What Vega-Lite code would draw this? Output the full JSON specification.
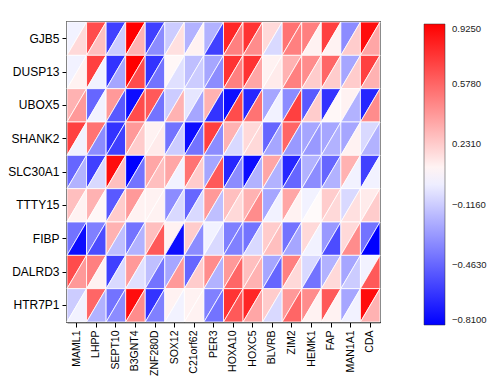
{
  "$schema": "https://vega.github.io/schema/vega-lite/v6.json",
  "width": 313,
  "height": 300,
  "autosize": "none",
  "padding": {"left": 67, "top": 22, "right": 120, "bottom": 67},
  "background": "white",
  "config": {
    "font": "Liberation Sans",
    "view": {"stroke": "black", "strokeWidth": 1.5},
    "axis": {"domainColor": "black", "domainWidth": 1.5, "tickColor": "black", "tickSize": 5, "labelColor": "black", "grid": false, "title": null}
  },
  "data": {"values": [
    {"r":"GJB5","c":"MAML1","u":0.014,"l":0.188},
    {"r":"GJB5","c":"LHPP","u":0.665,"l":0.274},
    {"r":"GJB5","c":"SEPT10","u":-0.593,"l":-0.116},
    {"r":"GJB5","c":"B3GNT4","u":0.925,"l":0.318},
    {"r":"GJB5","c":"ZNF280D","u":-0.593,"l":-0.333},
    {"r":"GJB5","c":"SOX12","u":-0.116,"l":0.162},
    {"r":"GJB5","c":"C21orf62","u":-0.203,"l":0.101},
    {"r":"GJB5","c":"PER3","u":-0.203,"l":-0.593},
    {"r":"GJB5","c":"HOXA10","u":0.795,"l":0.491},
    {"r":"GJB5","c":"HOXC5","u":0.752,"l":0.448},
    {"r":"GJB5","c":"BLVRB","u":0.188,"l":-0.073},
    {"r":"GJB5","c":"ZIM2","u":0.535,"l":0.491},
    {"r":"GJB5","c":"HEMK1","u":0.491,"l":0.101},
    {"r":"GJB5","c":"FAP","u":0.708,"l":0.101},
    {"r":"GJB5","c":"MAN1A1","u":-0.333,"l":0.231},
    {"r":"GJB5","c":"CDA","u":0.882,"l":0.361},
    {"r":"DUSP13","c":"MAML1","u":0.014,"l":0.101},
    {"r":"DUSP13","c":"LHPP","u":0.708,"l":0.014},
    {"r":"DUSP13","c":"SEPT10","u":-0.636,"l":-0.246},
    {"r":"DUSP13","c":"B3GNT4","u":0.925,"l":0.665},
    {"r":"DUSP13","c":"ZNF280D","u":-0.636,"l":-0.420},
    {"r":"DUSP13","c":"SOX12","u":0.084,"l":-0.047},
    {"r":"DUSP13","c":"C21orf62","u":-0.159,"l":-0.116},
    {"r":"DUSP13","c":"PER3","u":-0.246,"l":-0.333},
    {"r":"DUSP13","c":"HOXA10","u":0.752,"l":0.491},
    {"r":"DUSP13","c":"HOXC5","u":0.752,"l":0.361},
    {"r":"DUSP13","c":"BLVRB","u":0.101,"l":0.127},
    {"r":"DUSP13","c":"ZIM2","u":0.318,"l":0.491},
    {"r":"DUSP13","c":"HEMK1","u":0.448,"l":0.231},
    {"r":"DUSP13","c":"FAP","u":0.578,"l":0.231},
    {"r":"DUSP13","c":"MAN1A1","u":-0.246,"l":0.231},
    {"r":"DUSP13","c":"CDA","u":0.708,"l":0.318},
    {"r":"UBOX5","c":"MAML1","u":0.318,"l":0.405},
    {"r":"UBOX5","c":"LHPP","u":-0.463,"l":0.014},
    {"r":"UBOX5","c":"SEPT10","u":0.405,"l":-0.506},
    {"r":"UBOX5","c":"B3GNT4","u":-0.767,"l":0.665},
    {"r":"UBOX5","c":"ZNF280D","u":0.621,"l":-0.420},
    {"r":"UBOX5","c":"SOX12","u":-0.116,"l":0.318},
    {"r":"UBOX5","c":"C21orf62","u":-0.029,"l":-0.246},
    {"r":"UBOX5","c":"PER3","u":0.318,"l":-0.636},
    {"r":"UBOX5","c":"HOXA10","u":-0.767,"l":0.665},
    {"r":"UBOX5","c":"HOXC5","u":-0.680,"l":0.535},
    {"r":"UBOX5","c":"BLVRB","u":-0.246,"l":0.014},
    {"r":"UBOX5","c":"ZIM2","u":-0.333,"l":0.708},
    {"r":"UBOX5","c":"HEMK1","u":-0.506,"l":0.231},
    {"r":"UBOX5","c":"FAP","u":-0.636,"l":0.084},
    {"r":"UBOX5","c":"MAN1A1","u":0.101,"l":-0.203},
    {"r":"UBOX5","c":"CDA","u":-0.680,"l":0.448},
    {"r":"SHANK2","c":"MAML1","u":0.708,"l":0.014},
    {"r":"SHANK2","c":"LHPP","u":0.535,"l":-0.333},
    {"r":"SHANK2","c":"SEPT10","u":-0.636,"l":-0.593},
    {"r":"SHANK2","c":"B3GNT4","u":0.405,"l":0.231},
    {"r":"SHANK2","c":"ZNF280D","u":0.101,"l":0.127},
    {"r":"SHANK2","c":"SOX12","u":-0.420,"l":-0.116},
    {"r":"SHANK2","c":"C21orf62","u":-0.767,"l":-0.420},
    {"r":"SHANK2","c":"PER3","u":0.708,"l":-0.333},
    {"r":"SHANK2","c":"HOXA10","u":0.318,"l":-0.073},
    {"r":"SHANK2","c":"HOXC5","u":0.188,"l":0.188},
    {"r":"SHANK2","c":"BLVRB","u":-0.463,"l":-0.246},
    {"r":"SHANK2","c":"ZIM2","u":0.578,"l":-0.290},
    {"r":"SHANK2","c":"HEMK1","u":-0.246,"l":-0.290},
    {"r":"SHANK2","c":"FAP","u":-0.246,"l":-0.203},
    {"r":"SHANK2","c":"MAN1A1","u":-0.246,"l":0.101},
    {"r":"SHANK2","c":"CDA","u":-0.073,"l":-0.203},
    {"r":"SLC30A1","c":"MAML1","u":-0.463,"l":-0.203},
    {"r":"SLC30A1","c":"LHPP","u":-0.593,"l":-0.073},
    {"r":"SLC30A1","c":"SEPT10","u":0.882,"l":0.274},
    {"r":"SLC30A1","c":"B3GNT4","u":-0.810,"l":-0.420},
    {"r":"SLC30A1","c":"ZNF280D","u":0.361,"l":0.274},
    {"r":"SLC30A1","c":"SOX12","u":0.361,"l":0.014},
    {"r":"SLC30A1","c":"C21orf62","u":0.535,"l":0.231},
    {"r":"SLC30A1","c":"PER3","u":-0.246,"l":0.621},
    {"r":"SLC30A1","c":"HOXA10","u":-0.680,"l":-0.333},
    {"r":"SLC30A1","c":"HOXC5","u":-0.767,"l":-0.203},
    {"r":"SLC30A1","c":"BLVRB","u":0.361,"l":-0.203},
    {"r":"SLC30A1","c":"ZIM2","u":-0.680,"l":-0.463},
    {"r":"SLC30A1","c":"HEMK1","u":-0.203,"l":-0.333},
    {"r":"SLC30A1","c":"FAP","u":-0.463,"l":-0.203},
    {"r":"SLC30A1","c":"MAN1A1","u":0.318,"l":0.014},
    {"r":"SLC30A1","c":"CDA","u":-0.593,"l":0.014},
    {"r":"TTTY15","c":"MAML1","u":0.274,"l":0.101},
    {"r":"TTTY15","c":"LHPP","u":0.318,"l":0.084},
    {"r":"TTTY15","c":"SEPT10","u":-0.506,"l":0.231},
    {"r":"TTTY15","c":"B3GNT4","u":0.405,"l":0.101},
    {"r":"TTTY15","c":"ZNF280D","u":0.101,"l":0.101},
    {"r":"TTTY15","c":"SOX12","u":-0.333,"l":-0.073},
    {"r":"TTTY15","c":"C21orf62","u":-0.463,"l":-0.073},
    {"r":"TTTY15","c":"PER3","u":0.405,"l":-0.159},
    {"r":"TTTY15","c":"HOXA10","u":0.274,"l":0.188},
    {"r":"TTTY15","c":"HOXC5","u":0.318,"l":0.448},
    {"r":"TTTY15","c":"BLVRB","u":-0.246,"l":0.014},
    {"r":"TTTY15","c":"ZIM2","u":0.361,"l":0.101},
    {"r":"TTTY15","c":"HEMK1","u":0.014,"l":0.075},
    {"r":"TTTY15","c":"FAP","u":0.231,"l":0.188},
    {"r":"TTTY15","c":"MAN1A1","u":-0.073,"l":0.162},
    {"r":"TTTY15","c":"CDA","u":0.127,"l":0.231},
    {"r":"FIBP","c":"MAML1","u":-0.420,"l":-0.767},
    {"r":"FIBP","c":"LHPP","u":-0.376,"l":-0.550},
    {"r":"FIBP","c":"SEPT10","u":0.318,"l":-0.159},
    {"r":"FIBP","c":"B3GNT4","u":-0.420,"l":-0.203},
    {"r":"FIBP","c":"ZNF280D","u":0.274,"l":0.621},
    {"r":"FIBP","c":"SOX12","u":0.101,"l":-0.767},
    {"r":"FIBP","c":"C21orf62","u":0.231,"l":-0.333},
    {"r":"FIBP","c":"PER3","u":0.014,"l":-0.073},
    {"r":"FIBP","c":"HOXA10","u":-0.376,"l":-0.376},
    {"r":"FIBP","c":"HOXC5","u":-0.420,"l":-0.073},
    {"r":"FIBP","c":"BLVRB","u":0.231,"l":0.274},
    {"r":"FIBP","c":"ZIM2","u":-0.420,"l":-0.246},
    {"r":"FIBP","c":"HEMK1","u":0.188,"l":0.014},
    {"r":"FIBP","c":"FAP","u":-0.290,"l":-0.550},
    {"r":"FIBP","c":"MAN1A1","u":0.188,"l":0.448},
    {"r":"FIBP","c":"CDA","u":-0.420,"l":-0.810},
    {"r":"DALRD3","c":"MAML1","u":0.665,"l":0.405},
    {"r":"DALRD3","c":"LHPP","u":0.491,"l":0.101},
    {"r":"DALRD3","c":"SEPT10","u":-0.593,"l":-0.073},
    {"r":"DALRD3","c":"B3GNT4","u":0.405,"l":-0.047},
    {"r":"DALRD3","c":"ZNF280D","u":-0.159,"l":-0.420},
    {"r":"DALRD3","c":"SOX12","u":-0.246,"l":0.405},
    {"r":"DALRD3","c":"C21orf62","u":-0.463,"l":0.231},
    {"r":"DALRD3","c":"PER3","u":0.448,"l":-0.203},
    {"r":"DALRD3","c":"HOXA10","u":0.405,"l":0.578},
    {"r":"DALRD3","c":"HOXC5","u":0.274,"l":0.318},
    {"r":"DALRD3","c":"BLVRB","u":-0.246,"l":-0.463},
    {"r":"DALRD3","c":"ZIM2","u":0.491,"l":0.188},
    {"r":"DALRD3","c":"HEMK1","u":-0.073,"l":-0.420},
    {"r":"DALRD3","c":"FAP","u":-0.203,"l":0.188},
    {"r":"DALRD3","c":"MAN1A1","u":-0.246,"l":-0.116},
    {"r":"DALRD3","c":"CDA","u":0.014,"l":0.621},
    {"r":"HTR7P1","c":"MAML1","u":-0.116,"l":0.014},
    {"r":"HTR7P1","c":"LHPP","u":0.578,"l":-0.203},
    {"r":"HTR7P1","c":"SEPT10","u":-0.420,"l":-0.333},
    {"r":"HTR7P1","c":"B3GNT4","u":0.882,"l":0.448},
    {"r":"HTR7P1","c":"ZNF280D","u":-0.636,"l":-0.376},
    {"r":"HTR7P1","c":"SOX12","u":0.101,"l":0.014},
    {"r":"HTR7P1","c":"C21orf62","u":0.101,"l":0.101},
    {"r":"HTR7P1","c":"PER3","u":-0.376,"l":-0.420},
    {"r":"HTR7P1","c":"HOXA10","u":0.752,"l":0.621},
    {"r":"HTR7P1","c":"HOXC5","u":0.795,"l":0.361},
    {"r":"HTR7P1","c":"BLVRB","u":0.231,"l":-0.073},
    {"r":"HTR7P1","c":"ZIM2","u":0.405,"l":0.578},
    {"r":"HTR7P1","c":"HEMK1","u":0.448,"l":0.101},
    {"r":"HTR7P1","c":"FAP","u":0.621,"l":0.101},
    {"r":"HTR7P1","c":"MAN1A1","u":-0.246,"l":0.014},
    {"r":"HTR7P1","c":"CDA","u":0.882,"l":0.318}
  ]},
  "transform": [{"fold": ["u", "l"], "as": ["tri", "v"]}],
  "mark": {"type": "point", "filled": true, "opacity": 1, "size": 1111, "stroke": "white", "strokeWidth": 0.8},
  "encoding": {
    "x": {"field": "c", "type": "nominal",
      "sort": ["MAML1","LHPP","SEPT10","B3GNT4","ZNF280D","SOX12","C21orf62","PER3","HOXA10","HOXC5","BLVRB","ZIM2","HEMK1","FAP","MAN1A1","CDA"],
      "scale": {"type": "band", "paddingInner": 0, "paddingOuter": 0},
      "axis": {"labelAngle": -90, "labelFontSize": 10.5, "labelPadding": 3}},
    "y": {"field": "r", "type": "nominal",
      "sort": ["GJB5","DUSP13","UBOX5","SHANK2","SLC30A1","TTTY15","FIBP","DALRD3","HTR7P1"],
      "scale": {"type": "band", "paddingInner": 0, "paddingOuter": 0},
      "axis": {"labelFontSize": 12, "labelPadding": 3}},
    "shape": {"field": "tri", "type": "nominal",
      "scale": {"domain": ["u", "l"], "range": ["M -0.587 -1 L 0.587 -1 L -0.587 1 Z", "M 0.587 -1 L 0.587 1 L -0.587 1 Z"]},
      "legend": null},
    "color": {"field": "v", "type": "quantitative",
      "scale": {"domain": [-0.81, 0.0575, 0.925], "range": ["#0000ff", "#ffffff", "#ff0000"], "interpolate": "rgb"},
      "legend": {"title": null, "orient": "none", "legendX": 357, "legendY": 2, "direction": "vertical",
        "gradientLength": 301, "gradientThickness": 21, "gradientStrokeColor": "#333", "gradientStrokeWidth": 0.5,
        "values": [0.925, 0.578, 0.231, -0.116, -0.463, -0.81], "format": ".4f",
        "labelFontSize": 9.5, "labelColor": "#222", "labelOffset": 7}}
  }
}
